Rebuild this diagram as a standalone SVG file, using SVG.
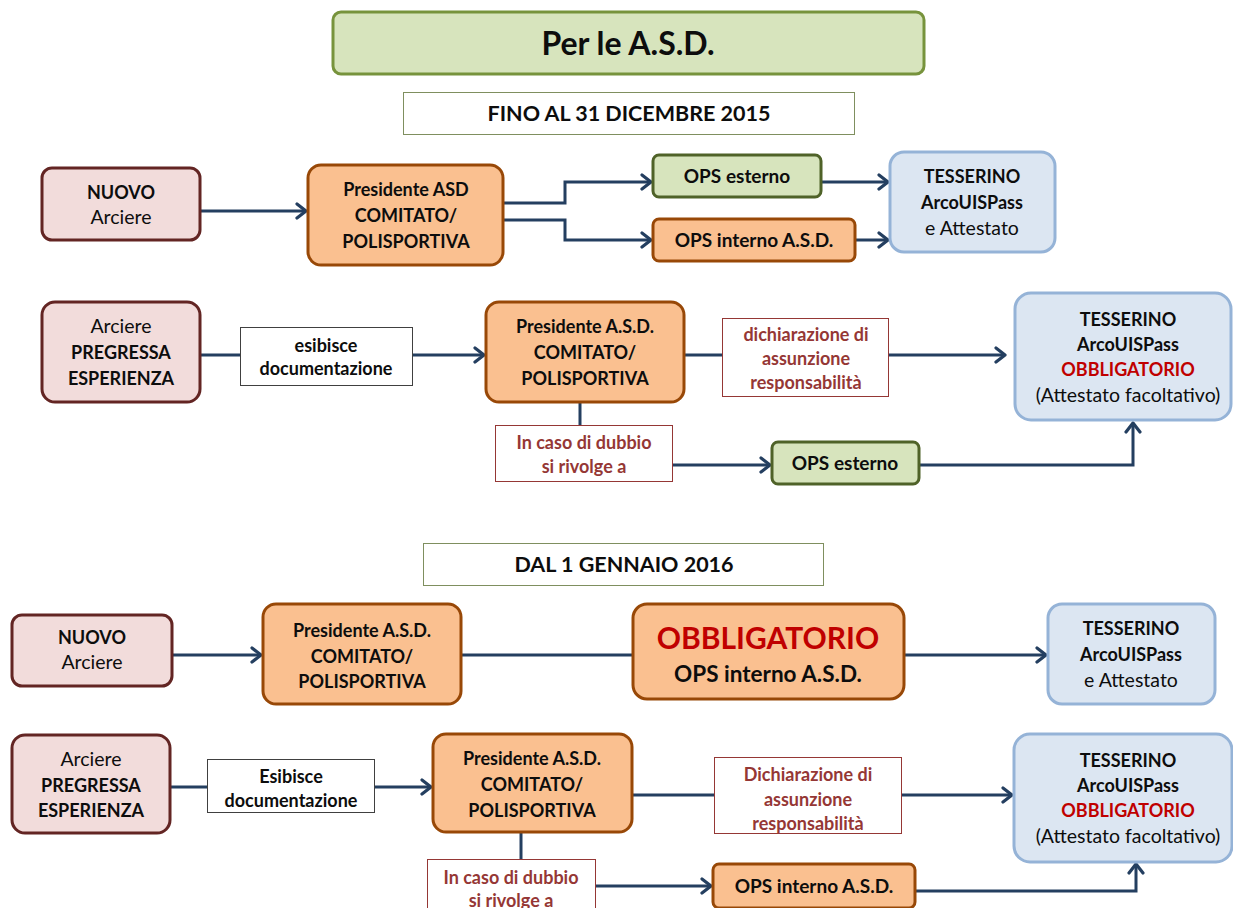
<svg xmlns="http://www.w3.org/2000/svg" width="1233" height="908" viewBox="0 0 1233 908">
<defs>
<marker id="arr" markerUnits="userSpaceOnUse" markerWidth="16" markerHeight="18" refX="11" refY="9" orient="auto">
<path d="M2,2 L11,9 L2,16" fill="none" stroke="#243f60" stroke-width="3.2" stroke-linecap="round" stroke-linejoin="round"/>
</marker>
<style>
text{font-family:Lato,"Open Sans","Liberation Sans",sans-serif;text-anchor:middle;fill:#0d0d0d}
.b{font-weight:bold;font-size:18px}
.n{font-weight:normal;font-size:19.5px}
.f16{font-size:18px}
.ops{font-size:19px}
.red{fill:#c00000}
.brn{fill:#953735;font-size:18px}
.pink{fill:#f2dcdb;stroke:#632523;stroke-width:3}
.org{fill:#fac090;stroke:#984807;stroke-width:3}
.grn{fill:#d7e4bd;stroke:#4f6228;stroke-width:3}
.blu{fill:#dce6f2;stroke:#95b3d7;stroke-width:3}
.lbl{fill:#ffffff;stroke:#404040;stroke-width:1}
.lblr{fill:#ffffff;stroke:#953735;stroke-width:1}
.hdr{fill:#ffffff;stroke:#7f8f5f;stroke-width:1}
.c{fill:none;stroke:#243f60;stroke-width:3}
.ca{fill:none;stroke:#243f60;stroke-width:3;marker-end:url(#arr)}
</style>
</defs>
<rect width="1233" height="908" fill="#ffffff"/>

<g id="title">
<rect x="333" y="12" width="591" height="62" rx="8" fill="#d7e4bd" stroke="#77933c" stroke-width="3"/>
<text x="628" y="55" class="b" style="font-size:32px">Per le A.S.D.</text>
</g>
<g id="hdr1">
<rect x="403.5" y="92.5" width="451" height="42" class="hdr"/>
<text x="629" y="121" class="b" style="font-size:21.5px">FINO AL 31 DICEMBRE 2015</text>
</g>

<g id="connectors">
<path class="ca" d="M200,211 H306"/>
<path class="c" d="M503,203 H565 V182 H640"/>
<path class="ca" d="M640,182 H651"/>
<path class="c" d="M503,220 H565 V240 H640"/>
<path class="ca" d="M640,240 H651"/>
<path class="ca" d="M821,182 H888"/>
<path class="ca" d="M855,240 H888"/>
<path class="c" d="M200,355 H240"/>
<path class="ca" d="M413,355 H484"/>
<path class="c" d="M684,355 H722"/>
<path class="ca" d="M889,355 H1005"/>
<path class="c" d="M580,402 V425"/>
<path class="ca" d="M673,465 H770"/>
<path class="ca" d="M919,465 H1133 V423"/>
<path class="ca" d="M172,655 H261"/>
<path class="c" d="M461,655 H633"/>
<path class="ca" d="M904,655 H1046"/>
<path class="c" d="M170,787 H207"/>
<path class="ca" d="M375,787 H431"/>
<path class="c" d="M632,795 H714"/>
<path class="ca" d="M902,795 H1012"/>
<path class="c" d="M521,832 V859"/>
<path class="ca" d="M596,886 H711"/>
<path class="ca" d="M915,891 H1136 V864"/>
</g>

<g id="nuovo1">
<rect x="42" y="168" width="158" height="72" rx="10" class="pink"/>
<text x="121" y="199" class="b">NUOVO</text>
<text x="121" y="224" class="n">Arciere</text>
</g>
<g id="pres1">
<rect x="308" y="165" width="195" height="100" rx="13" class="org"/>
<text x="406" y="196" class="b">Presidente ASD</text>
<text x="406" y="222" class="b">COMITATO/</text>
<text x="406" y="248" class="b">POLISPORTIVA</text>
</g>
<g id="opsest1">
<rect x="653" y="155" width="168" height="42" rx="6" class="grn"/>
<text x="737" y="183" class="b ops">OPS esterno</text>
</g>
<g id="opsint1">
<rect x="653" y="219" width="202" height="42" rx="6" class="org"/>
<text x="754" y="247" class="b ops">OPS interno A.S.D.</text>
</g>
<g id="tess1">
<rect x="890" y="152" width="165" height="100" rx="14" class="blu"/>
<text x="972" y="183" class="b">TESSERINO</text>
<text x="972" y="209" class="b">ArcoUISPass</text>
<text x="972" y="235" class="n">e Attestato</text>
</g>

<g id="pregr1">
<rect x="42" y="302" width="158" height="100" rx="13" class="pink"/>
<text x="121" y="333" class="n">Arciere</text>
<text x="121" y="359" class="b">PREGRESSA</text>
<text x="121" y="385" class="b">ESPERIENZA</text>
</g>
<g id="esib1">
<rect x="240.5" y="327.5" width="172" height="58" class="lbl"/>
<text x="326" y="352" class="b f16">esibisce</text>
<text x="326" y="375" class="b f16">documentazione</text>
</g>
<g id="pres2">
<rect x="486" y="302" width="198" height="100" rx="13" class="org"/>
<text x="585" y="333" class="b">Presidente A.S.D.</text>
<text x="585" y="359" class="b">COMITATO/</text>
<text x="585" y="385" class="b">POLISPORTIVA</text>
</g>
<g id="dich1">
<rect x="722.5" y="318.5" width="166" height="78" class="lblr"/>
<text x="806" y="341" class="b brn">dichiarazione di</text>
<text x="806" y="365" class="b brn">assunzione</text>
<text x="806" y="389" class="b brn">responsabilità</text>
</g>
<g id="tess2">
<rect x="1015" y="293" width="216" height="127" rx="16" class="blu"/>
<text x="1128" y="326" class="b">TESSERINO</text>
<text x="1128" y="351" class="b">ArcoUISPass</text>
<text x="1128" y="376" class="b red">OBBLIGATORIO</text>
<text x="1128" y="402" class="n">(Attestato facoltativo)</text>
</g>
<g id="dubbio1">
<rect x="495.5" y="425.5" width="177" height="56" class="lblr"/>
<text x="584" y="449" class="b brn">In caso di dubbio</text>
<text x="584" y="473" class="b brn">si rivolge a</text>
</g>
<g id="opsest2">
<rect x="772" y="442" width="147" height="42" rx="6" class="grn"/>
<text x="845" y="470" class="b ops">OPS esterno</text>
</g>

<g id="hdr2">
<rect x="423.5" y="543.5" width="400" height="42" class="hdr"/>
<text x="624" y="572" class="b" style="font-size:21.5px">DAL 1 GENNAIO 2016</text>
</g>
<g id="nuovo2">
<rect x="12" y="615" width="160" height="71" rx="10" class="pink"/>
<text x="92" y="644" class="b">NUOVO</text>
<text x="92" y="669" class="n">Arciere</text>
</g>
<g id="pres3">
<rect x="263" y="604" width="198" height="100" rx="13" class="org"/>
<text x="362" y="637" class="b">Presidente A.S.D.</text>
<text x="362" y="663" class="b">COMITATO/</text>
<text x="362" y="688" class="b">POLISPORTIVA</text>
</g>
<g id="obbl">
<rect x="633" y="604" width="271" height="95" rx="14" class="org"/>
<text x="768" y="649" class="b red" style="font-size:30px">OBBLIGATORIO</text>
<text x="768" y="682" class="b" style="font-size:22.5px">OPS interno A.S.D.</text>
</g>
<g id="tess3">
<rect x="1048" y="604" width="167" height="100" rx="14" class="blu"/>
<text x="1131" y="635" class="b">TESSERINO</text>
<text x="1131" y="661" class="b">ArcoUISPass</text>
<text x="1131" y="687" class="n">e Attestato</text>
</g>

<g id="pregr2">
<rect x="12" y="735" width="158" height="98" rx="13" class="pink"/>
<text x="91" y="766" class="n">Arciere</text>
<text x="91" y="792" class="b">PREGRESSA</text>
<text x="91" y="817" class="b">ESPERIENZA</text>
</g>
<g id="esib2">
<rect x="207.5" y="759.5" width="167" height="53" class="lbl"/>
<text x="291" y="783" class="b f16">Esibisce</text>
<text x="291" y="807" class="b f16">documentazione</text>
</g>
<g id="pres4">
<rect x="433" y="734" width="199" height="98" rx="13" class="org"/>
<text x="532" y="765" class="b">Presidente A.S.D.</text>
<text x="532" y="791" class="b">COMITATO/</text>
<text x="532" y="817" class="b">POLISPORTIVA</text>
</g>
<g id="dich2">
<rect x="714.5" y="757.5" width="187" height="76" class="lblr"/>
<text x="808" y="781" class="b brn">Dichiarazione di</text>
<text x="808" y="806" class="b brn">assunzione</text>
<text x="808" y="830" class="b brn">responsabilità</text>
</g>
<g id="tess4">
<rect x="1014" y="734" width="218" height="128" rx="16" class="blu"/>
<text x="1128" y="767" class="b">TESSERINO</text>
<text x="1128" y="792" class="b">ArcoUISPass</text>
<text x="1128" y="817" class="b red">OBBLIGATORIO</text>
<text x="1128" y="843" class="n">(Attestato facoltativo)</text>
</g>
<g id="dubbio2">
<rect x="427.5" y="859.5" width="168" height="56" class="lblr"/>
<text x="511" y="884" class="b brn">In caso di dubbio</text>
<text x="511" y="907" class="b brn">si rivolge a</text>
</g>
<g id="opsint2">
<rect x="713" y="864" width="202" height="44" rx="6" class="org"/>
<text x="814" y="893" class="b ops">OPS interno A.S.D.</text>
</g>
</svg>
